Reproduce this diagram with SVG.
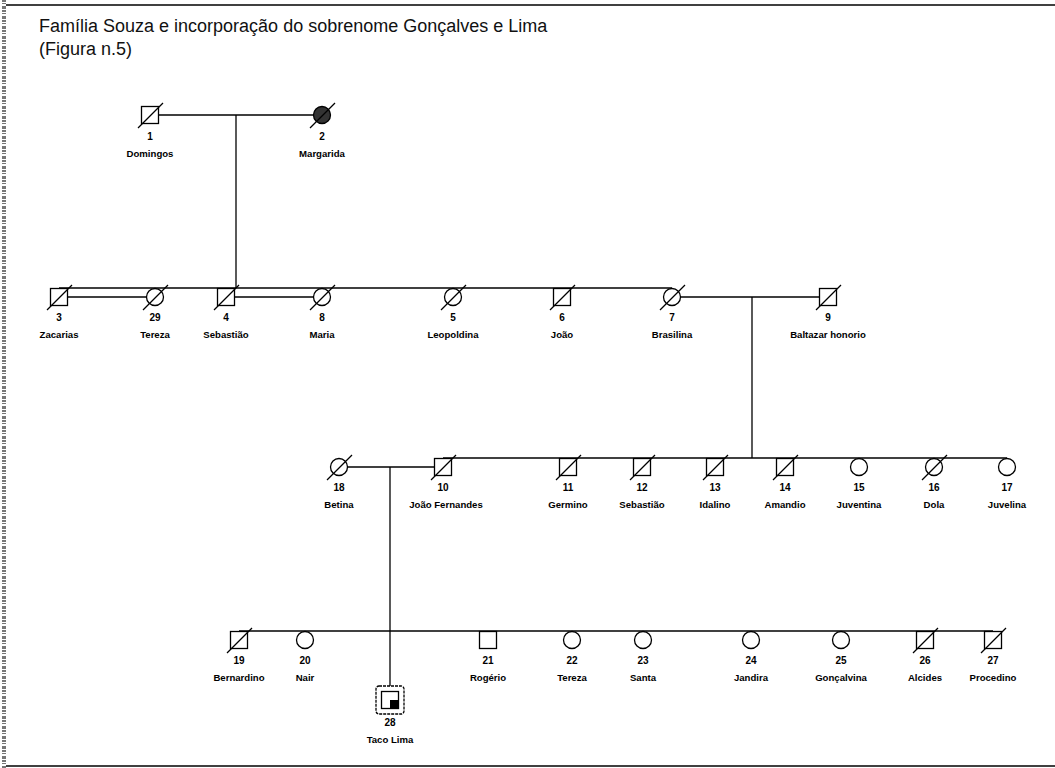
<svg xmlns="http://www.w3.org/2000/svg" width="1055" height="768" viewBox="0 0 1055 768">
<style>
.sym{fill:#fff;stroke:#000;stroke-width:1.3}
.ln{stroke:#000;stroke-width:1.3;fill:none}
.sl{stroke:#000;stroke-width:1.2}
.num{font-family:"Liberation Sans",Arial,sans-serif;font-size:10px;font-weight:bold;text-anchor:middle;fill:#000}
.nm{font-family:"Liberation Sans",Arial,sans-serif;font-size:9.6px;font-weight:bold;text-anchor:middle;fill:#000}
.title{font-family:"Liberation Sans",Arial,sans-serif;font-size:18px;fill:#111}
</style>
<rect width="1055" height="768" fill="#fff"/>
<g id="frame">
<line x1="6" y1="5" x2="1055" y2="5" stroke="#000" stroke-width="1.5"/>
<line x1="6" y1="766" x2="1055" y2="766" stroke="#000" stroke-width="1.5"/>
<line x1="4" y1="0" x2="4" y2="768" stroke="#777" stroke-width="4" stroke-dasharray="2 1 1 2 3 1"/>
</g>
<g id="title">
<text class="title" x="39" y="32">Família Souza e incorporação do sobrenome Gonçalves e Lima</text>
<text class="title" x="39" y="55">(Figura n.5)</text>
</g>
<g id="connectors">
<line class="ln" x1="158" y1="115" x2="314" y2="115"/>
<line class="ln" x1="236" y1="115" x2="236" y2="288"/>
<line class="ln" x1="59" y1="288" x2="672" y2="288"/>
<line class="ln" x1="67" y1="297" x2="147" y2="297"/>
<line class="ln" x1="234" y1="297" x2="314" y2="297"/>
<line class="ln" x1="680" y1="297" x2="820" y2="297"/>
<line class="ln" x1="752" y1="297" x2="752" y2="458"/>
<line class="ln" x1="443" y1="458" x2="1007" y2="458"/>
<line class="ln" x1="347" y1="467" x2="435" y2="467"/>
<line class="ln" x1="390" y1="467" x2="390" y2="686"/>
<line class="ln" x1="239" y1="631" x2="993" y2="631"/>
</g>
<g id="n1"><rect class="sym" x="141.5" y="106.5" width="17" height="17"/><line class="sl" x1="138" y1="128" x2="163" y2="103"/><text class="num" x="150" y="140">1</text><text class="nm" x="150" y="157">Domingos</text></g>
<g id="n2"><circle cx="322" cy="115" r="8.5" fill="#333" stroke="#000" stroke-width="1.3"/><line class="sl" x1="310" y1="128" x2="335" y2="103"/><text class="num" x="322" y="140">2</text><text class="nm" x="322" y="157">Margarida</text></g>
<g id="n3"><rect class="sym" x="50.5" y="288.5" width="17" height="17"/><line class="sl" x1="47" y1="310" x2="72" y2="285"/><text class="num" x="59" y="321">3</text><text class="nm" x="59" y="338">Zacarias</text></g>
<g id="n29"><circle class="sym" cx="155" cy="297" r="8.5"/><line class="sl" x1="143" y1="310" x2="168" y2="285"/><text class="num" x="155" y="321">29</text><text class="nm" x="155" y="338">Tereza</text></g>
<g id="n4"><rect class="sym" x="217.5" y="288.5" width="17" height="17"/><line class="sl" x1="214" y1="310" x2="239" y2="285"/><text class="num" x="226" y="321">4</text><text class="nm" x="226" y="338">Sebastião</text></g>
<g id="n8"><circle class="sym" cx="322" cy="297" r="8.5"/><line class="sl" x1="310" y1="310" x2="335" y2="285"/><text class="num" x="322" y="321">8</text><text class="nm" x="322" y="338">Maria</text></g>
<g id="n5"><circle class="sym" cx="453" cy="297" r="8.5"/><line class="sl" x1="441" y1="310" x2="466" y2="285"/><text class="num" x="453" y="321">5</text><text class="nm" x="453" y="338">Leopoldina</text></g>
<g id="n6"><rect class="sym" x="553.5" y="288.5" width="17" height="17"/><line class="sl" x1="550" y1="310" x2="575" y2="285"/><text class="num" x="562" y="321">6</text><text class="nm" x="562" y="338">João</text></g>
<g id="n7"><circle class="sym" cx="672" cy="297" r="8.5"/><line class="sl" x1="660" y1="310" x2="685" y2="285"/><text class="num" x="672" y="321">7</text><text class="nm" x="672" y="338">Brasilina</text></g>
<g id="n9"><rect class="sym" x="819.5" y="288.5" width="17" height="17"/><line class="sl" x1="816" y1="310" x2="841" y2="285"/><text class="num" x="828" y="321">9</text><text class="nm" x="828" y="338">Baltazar honorio</text></g>
<g id="n18"><circle class="sym" cx="339" cy="467" r="8.5"/><line class="sl" x1="327" y1="480" x2="352" y2="455"/><text class="num" x="339" y="491">18</text><text class="nm" x="339" y="508">Betina</text></g>
<g id="n10"><rect class="sym" x="434.5" y="458.5" width="17" height="17"/><line class="sl" x1="431" y1="480" x2="456" y2="455"/><text class="num" x="443" y="491">10</text><text class="nm" x="446" y="508">João Fernandes</text></g>
<g id="n11"><rect class="sym" x="559.5" y="458.5" width="17" height="17"/><line class="sl" x1="556" y1="480" x2="581" y2="455"/><text class="num" x="568" y="491">11</text><text class="nm" x="568" y="508">Germino</text></g>
<g id="n12"><rect class="sym" x="633.5" y="458.5" width="17" height="17"/><line class="sl" x1="630" y1="480" x2="655" y2="455"/><text class="num" x="642" y="491">12</text><text class="nm" x="642" y="508">Sebastião</text></g>
<g id="n13"><rect class="sym" x="706.5" y="458.5" width="17" height="17"/><line class="sl" x1="703" y1="480" x2="728" y2="455"/><text class="num" x="715" y="491">13</text><text class="nm" x="715" y="508">Idalino</text></g>
<g id="n14"><rect class="sym" x="776.5" y="458.5" width="17" height="17"/><line class="sl" x1="773" y1="480" x2="798" y2="455"/><text class="num" x="785" y="491">14</text><text class="nm" x="785" y="508">Amandio</text></g>
<g id="n15"><circle class="sym" cx="859" cy="467" r="8.5"/><text class="num" x="859" y="491">15</text><text class="nm" x="859" y="508">Juventina</text></g>
<g id="n16"><circle class="sym" cx="934" cy="467" r="8.5"/><line class="sl" x1="922" y1="480" x2="947" y2="455"/><text class="num" x="934" y="491">16</text><text class="nm" x="934" y="508">Dola</text></g>
<g id="n17"><circle class="sym" cx="1007" cy="467" r="8.5"/><text class="num" x="1007" y="491">17</text><text class="nm" x="1007" y="508">Juvelina</text></g>
<g id="n19"><rect class="sym" x="230.5" y="631.5" width="17" height="17"/><line class="sl" x1="227" y1="653" x2="252" y2="628"/><text class="num" x="239" y="664">19</text><text class="nm" x="239" y="681">Bernardino</text></g>
<g id="n20"><circle class="sym" cx="305" cy="640" r="8.5"/><text class="num" x="305" y="664">20</text><text class="nm" x="305" y="681">Nair</text></g>
<g id="n21"><rect class="sym" x="479.5" y="631.5" width="17" height="17"/><text class="num" x="488" y="664">21</text><text class="nm" x="488" y="681">Rogério</text></g>
<g id="n22"><circle class="sym" cx="572" cy="640" r="8.5"/><text class="num" x="572" y="664">22</text><text class="nm" x="572" y="681">Tereza</text></g>
<g id="n23"><circle class="sym" cx="643" cy="640" r="8.5"/><text class="num" x="643" y="664">23</text><text class="nm" x="643" y="681">Santa</text></g>
<g id="n24"><circle class="sym" cx="751" cy="640" r="8.5"/><text class="num" x="751" y="664">24</text><text class="nm" x="751" y="681">Jandira</text></g>
<g id="n25"><circle class="sym" cx="841" cy="640" r="8.5"/><text class="num" x="841" y="664">25</text><text class="nm" x="841" y="681">Gonçalvina</text></g>
<g id="n26"><rect class="sym" x="916.5" y="631.5" width="17" height="17"/><line class="sl" x1="913" y1="653" x2="938" y2="628"/><text class="num" x="925" y="664">26</text><text class="nm" x="925" y="681">Alcides</text></g>
<g id="n27"><rect class="sym" x="984.5" y="631.5" width="17" height="17"/><line class="sl" x1="981" y1="653" x2="1006" y2="628"/><text class="num" x="993" y="664">27</text><text class="nm" x="993" y="681">Procedino</text></g>
<g id="n28"><rect x="376" y="686" width="28" height="28" rx="3" fill="#fff" stroke="#000" stroke-width="1.3" stroke-dasharray="3 1"/><rect class="sym" x="381.5" y="691.5" width="17" height="17"/><rect x="390" y="700" width="8.5" height="8.5" fill="#000"/><text class="num" x="390" y="726">28</text><text class="nm" x="390" y="743">Taco Lima</text></g>
</svg>
